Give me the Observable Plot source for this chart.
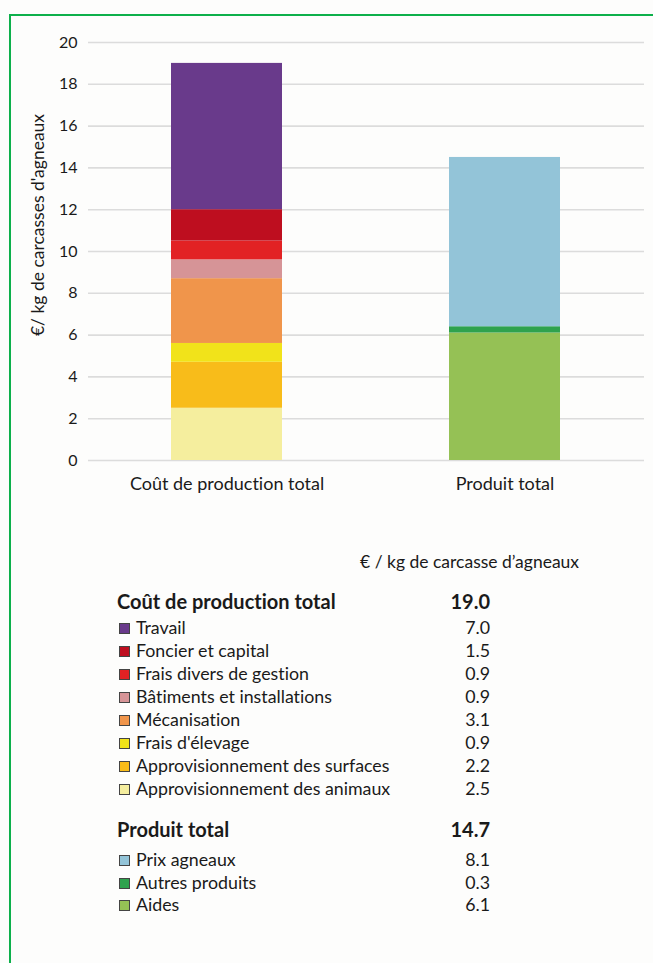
<!DOCTYPE html>
<html>
<head>
<meta charset="utf-8">
<script src="https://cdn.jsdelivr.net/npm/d3@7"></script>
<script src="https://cdn.jsdelivr.net/npm/@observablehq/plot@0.6"></script>
<style>
  html, body { margin: 0; padding: 0; background: #fdfdfc; }
  body { width: 653px; height: 963px; position: relative; overflow: hidden; font-family: Lato, "Open Sans", sans-serif; color: #1a1a1a; font-variant-ligatures: none; }
  svg text { font-variant-ligatures: none; }
  #frame { position: absolute; left: 9px; top: 14px; width: 700px; height: 1000px; border-top: 2px solid #0db04b; border-left: 2px solid #0db04b; }
  #chart { position: absolute; left: 0; top: 0; }
  #ylabel { position: absolute; left: 37px; top: 225px; transform: translate(-50%, -50%) rotate(-90deg); white-space: nowrap; font-size: 17.5px; }
  #unit { position: absolute; left: 360px; top: 551px; font-size: 17.5px; white-space: nowrap; }
  .row { position: absolute; left: 117px; width: 373px; height: 22px; font-size: 17.8px; line-height: 22px; white-space: nowrap; }
  .row .val { position: absolute; right: 0; top: 0; }
  .row.head { font-weight: bold; font-size: 20px; }
  .sw { display: inline-block; width: 9px; height: 9px; border: 1px solid #444; margin: 0 6px 0 2px; vertical-align: 0px; }
</style>
</head>
<body>
<div id="frame"></div>
<div id="chart"></div>
<div id="ylabel">€/ kg de carcasses d'agneaux</div>
<div id="unit">€ / kg de carcasse d’agneaux</div>
<div id="table"></div>
<script>
// Categories (bars)
const groups = ["Coût de production total", "Produit total"];
// Cost components, top to bottom as in the table
const costNames = ["Travail", "Foncier et capital", "Frais divers de gestion", "Bâtiments et installations", "Mécanisation", "Frais d'élevage", "Approvisionnement des surfaces", "Approvisionnement des animaux"];
const costValues = [7.0, 1.5, 0.9, 0.9, 3.1, 0.9, 2.2, 2.5];
const costColors = ["#693a8b", "#be0e1f", "#e22224", "#d69497", "#f0954b", "#f1e31a", "#f8bc1a", "#f5ee9e"];
const costTotal = 19.0;
// Product components
const prodNames = ["Prix agneaux", "Autres produits", "Aides"];
const prodValues = [8.1, 0.3, 6.1];
const prodColors = ["#93c4d8", "#2fa24e", "#95c155"];
const prodTotal = 14.7;
// Axis
const yTicks = [0, 2, 4, 6, 8, 10, 12, 14, 16, 18, 20];
const yLabel = "€/ kg de carcasses d'agneaux";
const unitLabel = "€ / kg de carcasse d’agneaux";

// Stack from the bottom: reverse table order
const rows = [];
costNames.map((n, i) => ({group: groups[0], name: n, value: costValues[i]})).reverse().forEach(d => rows.push(d));
prodNames.map((n, i) => ({group: groups[1], name: n, value: prodValues[i]})).reverse().forEach(d => rows.push(d));

const plot = Plot.plot({
  width: 653,
  height: 500,
  marginLeft: 88,
  marginRight: 9,
  marginTop: 42,
  marginBottom: 40,
  style: {fontFamily: "Lato, 'Open Sans', sans-serif", fontSize: "15px", color: "#1a1a1a", background: "transparent"},
  x: {domain: groups, paddingInner: 0.6, paddingOuter: 0.3, label: null},
  y: {domain: [0, 20], label: null},
  color: {domain: [...costNames, ...prodNames], range: [...costColors, ...prodColors]},
  marks: [
    Plot.gridY(yTicks, {stroke: "#dcdcdc", strokeOpacity: 1, strokeWidth: 1.6}),
    Plot.barY(rows, {x: "group", y: "value", fill: "name", order: null}),
    Plot.axisY(yTicks, {tickSize: 0, tickPadding: 11, label: null, fontSize: 16}),
    Plot.axisX({tickSize: 0, tickPadding: 17, label: null, fontSize: 18})
  ]
});
document.getElementById("chart").appendChild(plot);
document.getElementById("ylabel").textContent = yLabel;
document.getElementById("unit").textContent = unitLabel;

// Table
const table = document.getElementById("table");
function addRow(top, name, value, color, head) {
  const r = document.createElement("div");
  r.className = "row" + (head ? " head" : "");
  r.style.top = top + "px";
  if (!head) {
    const s = document.createElement("span");
    s.className = "sw";
    s.style.background = color;
    r.appendChild(s);
  }
  r.appendChild(document.createTextNode(name));
  const v = document.createElement("span");
  v.className = "val";
  v.textContent = value.toFixed(1);
  r.appendChild(v);
  table.appendChild(r);
}
addRow(590, groups[0], costTotal, null, true);
costNames.forEach((n, i) => addRow(616 + i * 23, n, costValues[i], costColors[i], false));
addRow(818, groups[1], prodTotal, null, true);
prodNames.forEach((n, i) => addRow(848 + i * 22.5, n, prodValues[i], prodColors[i], false));
</script>
</body>
</html>
